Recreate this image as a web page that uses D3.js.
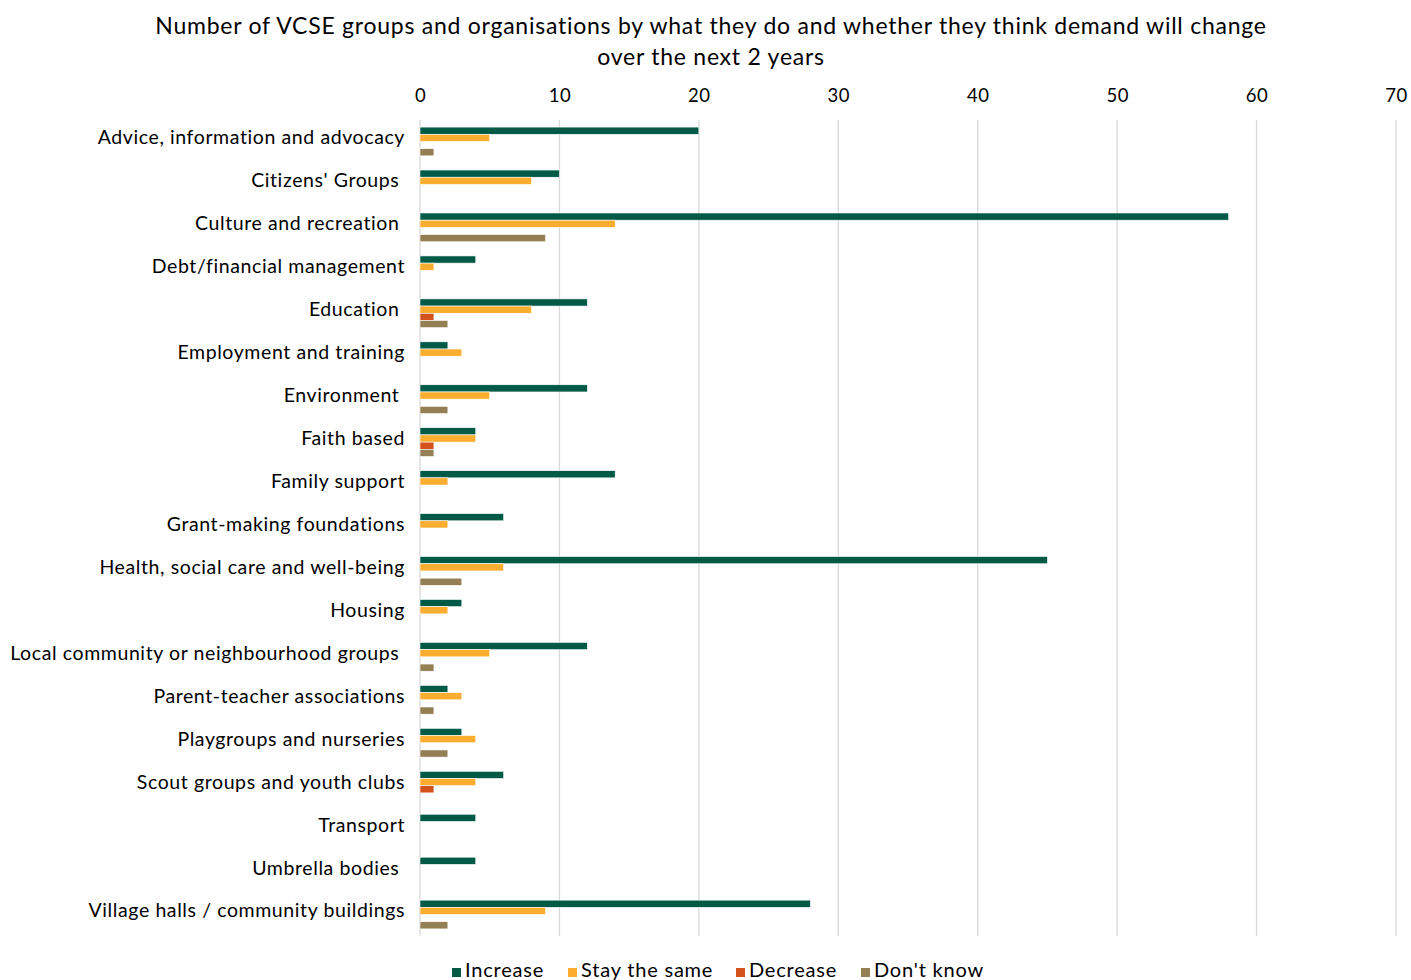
<!DOCTYPE html>
<html>
<head>
<meta charset="utf-8">
<script src="https://cdn.jsdelivr.net/npm/d3@7"></script>
<style>
  html, body { margin: 0; padding: 0; background: #fff; }
  text { font-family: Lato, "Open Sans", sans-serif; fill: #000; white-space: pre; }
</style>
</head>
<body>
<svg id="chart" width="1411" height="980"></svg>
<script>
const categories = [
  "Advice, information and advocacy",
  "Citizens' Groups ",
  "Culture and recreation ",
  "Debt/financial management",
  "Education ",
  "Employment and training",
  "Environment ",
  "Faith based",
  "Family support",
  "Grant-making foundations",
  "Health, social care and well-being",
  "Housing",
  "Local community or neighbourhood groups ",
  "Parent-teacher associations",
  "Playgroups and nurseries",
  "Scout groups and youth clubs",
  "Transport",
  "Umbrella bodies ",
  "Village halls / community buildings"
];
const seriesNames = ["Increase", "Stay the same", "Decrease", "Don't know"];
const increase   = [20, 10, 58, 4, 12, 2, 12, 4, 14, 6, 45, 3, 12, 2, 3, 6, 4, 4, 28];
const staysame   = [5, 8, 14, 1, 8, 3, 5, 4, 2, 2, 6, 2, 5, 3, 4, 4, 0, 0, 9];
const decrease   = [0, 0, 0, 0, 1, 0, 0, 1, 0, 0, 0, 0, 0, 0, 0, 1, 0, 0, 0];
const dontknow   = [1, 0, 9, 0, 2, 0, 2, 1, 0, 0, 3, 0, 1, 1, 2, 0, 0, 0, 2];
const xTicks = [0, 10, 20, 30, 40, 50, 60, 70];
const colors = ["#005A46", "#FBAD30", "#D4531C", "#947F55"];
const titleLines = [
  "Number of VCSE groups and organisations by what they do and whether they think demand will change",
  "over the next 2 years"
];

const seriesValues = [increase, staysame, decrease, dontknow];
const svg = d3.select("#chart");

const x = d3.scaleLinear().domain([0, 70]).range([420, 1396]);
const y = d3.scaleBand().domain(categories).range([120, 936]).paddingInner(0.33).paddingOuter(0.165);
const ySub = d3.scaleBand().domain(seriesNames).range([0, y.bandwidth()]);

// Title
svg.append("g").selectAll("text").data(titleLines).join("text")
  .attr("x", 711).attr("y", (d, i) => 34 + i * 31)
  .attr("text-anchor", "middle")
  .style("font-size", "23px")
  .style("letter-spacing", "0.75px")
  .text(d => d);

// Gridlines
svg.append("g").selectAll("line").data(xTicks).join("line")
  .attr("x1", d => x(d)).attr("x2", d => x(d))
  .attr("y1", 120).attr("y2", 936)
  .attr("stroke", "#d9d9d9").attr("stroke-width", 1.3);

// Top axis
const xAxis = svg.append("g").attr("transform", "translate(0,120)")
  .call(d3.axisTop(x).tickValues(xTicks).tickSize(0).tickPadding(18));
xAxis.select(".domain").remove();
xAxis.selectAll("text").style("font-size", "18.5px").attr("fill", "#000")
  .style("font-family", "Lato, sans-serif").style("letter-spacing", "0.5px");

// Bars
const groups = svg.append("g").selectAll("g").data(categories).join("g")
  .attr("transform", d => `translate(0,${y(d)})`);
groups.selectAll("rect")
  .data((c, ci) => seriesNames.map((s, si) => ({ s, si, v: seriesValues[si][ci] })))
  .join("rect")
  .attr("x", x(0))
  .attr("y", d => ySub(d.s))
  .attr("width", d => x(d.v) - x(0))
  .attr("height", ySub.bandwidth())
  .attr("fill", d => colors[d.si])
  .attr("stroke", "#fff").attr("stroke-width", 0.6)
  .style("display", d => d.v > 0 ? null : "none");

// Category labels
svg.append("g").selectAll("text").data(categories).join("text")
  .attr("x", 405)
  .attr("y", d => y(d) + y.bandwidth() / 2 - 2)
  .attr("text-anchor", "end")
  .attr("dominant-baseline", "middle")
  .style("font-size", "19.5px")
  .style("letter-spacing", "0.6px")
  .text(d => d);

// Legend
const legendX = [452, 568, 736, 861];
const legend = svg.append("g").selectAll("g").data(seriesNames).join("g")
  .attr("transform", (d, i) => `translate(${legendX[i]},0)`);
legend.append("rect").attr("x", 0).attr("y", 968).attr("width", 9).attr("height", 9)
  .attr("fill", (d, i) => colors[i]);
legend.append("text").attr("x", 13).attr("y", 977)
  .style("font-size", "20px").style("letter-spacing", "0.8px").text(d => d);
</script>
</body>
</html>
